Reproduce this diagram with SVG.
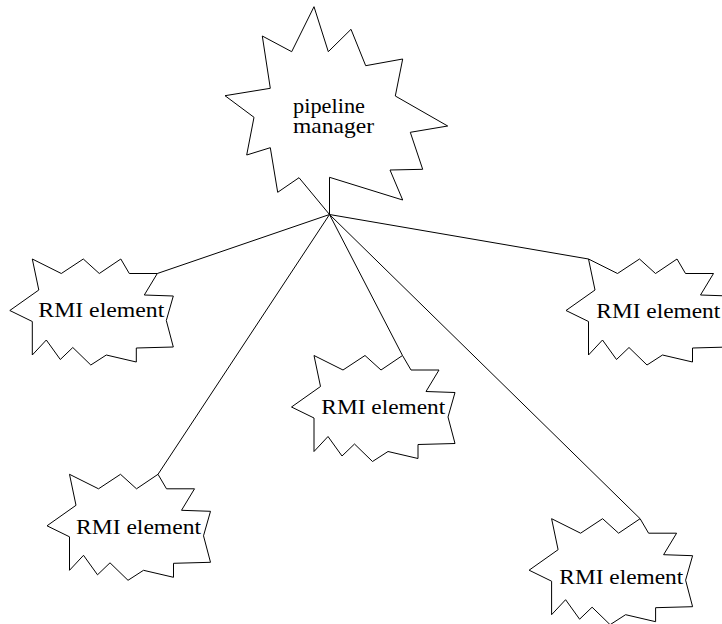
<svg xmlns="http://www.w3.org/2000/svg" xmlns:xlink="http://www.w3.org/1999/xlink" width="722" height="624" viewBox="0 0 722 624">
  <style>
    .shape { fill: #ffffff; stroke: #000000; stroke-width: 1; stroke-linejoin: miter; }
    .link { stroke: #000000; stroke-width: 1; fill: none; }
  </style>
  <defs>
    <!-- jagged "explosion" outline shared by every RMI element -->
    <polygon id="burst" class="shape" points="0,0 29,14.5 51,0 67,14.5 88.5,0 97,14.5 125,14.5 112,36 141,37 134,61.5 141,88 104,89 104,103 74,96 58.5,106 40.5,88.5 28,100.5 14,81 0,96 0,62.5 -22.5,51.5 6.5,31"/>
  </defs>
  <rect width="722" height="624" fill="#ffffff"/>

  <!-- links from the manager hub to each element -->
  <g id="connectors">
    <line class="link" x1="329.5" y1="214.5" x2="157.3" y2="273.5"/>
    <line class="link" x1="329.5" y1="214.5" x2="588.5" y2="259"/>
    <line class="link" x1="329.5" y1="214.5" x2="402.5" y2="355.5"/>
    <line class="link" x1="329.5" y1="214.5" x2="158" y2="474.3"/>
    <line class="link" x1="329.5" y1="214.5" x2="640.1" y2="518.7"/>
  </g>

  <g font-family="Liberation Serif" font-size="22" fill="#000000">
    <g id="pipeline-manager">
      <polygon class="shape" points="314,6.7 328.3,51.7 351,29.3 365.7,65.7 402.7,59 395.3,96 447.7,126 410.3,132.3 422.7,169.3 390,170 402.7,200 329.5,177.3 329.5,214.5 299,177.7 277.7,192.3 270.3,147.7 246.7,155 254,117.3 225,95.7 270.3,88.3 262.3,36 291.7,51.7"/>
      <text x="293" y="112.7" textLength="72" lengthAdjust="spacingAndGlyphs">pipeline</text>
      <text x="293" y="132.7" textLength="81" lengthAdjust="spacingAndGlyphs">manager</text>
    </g>

    <g id="rmi-left">
      <use xlink:href="#burst" transform="translate(32.3,259)"/>
      <text x="101.3" y="317" text-anchor="middle" textLength="126" lengthAdjust="spacingAndGlyphs">RMI element</text>
    </g>

    <g id="rmi-right">
      <use xlink:href="#burst" transform="translate(588.5,259)"/>
      <text x="658.3" y="318" text-anchor="middle" textLength="124" lengthAdjust="spacingAndGlyphs">RMI element</text>
    </g>

    <g id="rmi-center">
      <use xlink:href="#burst" transform="translate(314,355.5)"/>
      <text x="383.3" y="414" text-anchor="middle" textLength="124" lengthAdjust="spacingAndGlyphs">RMI element</text>
    </g>

    <g id="rmi-lower-left">
      <use xlink:href="#burst" transform="translate(69.5,474.3)"/>
      <text x="138.5" y="534" text-anchor="middle" textLength="125" lengthAdjust="spacingAndGlyphs">RMI element</text>
    </g>

    <g id="rmi-lower-right">
      <use xlink:href="#burst" transform="translate(551.6,518.7)"/>
      <text x="621.3" y="584.3" text-anchor="middle" textLength="124" lengthAdjust="spacingAndGlyphs">RMI element</text>
    </g>
  </g>
</svg>
